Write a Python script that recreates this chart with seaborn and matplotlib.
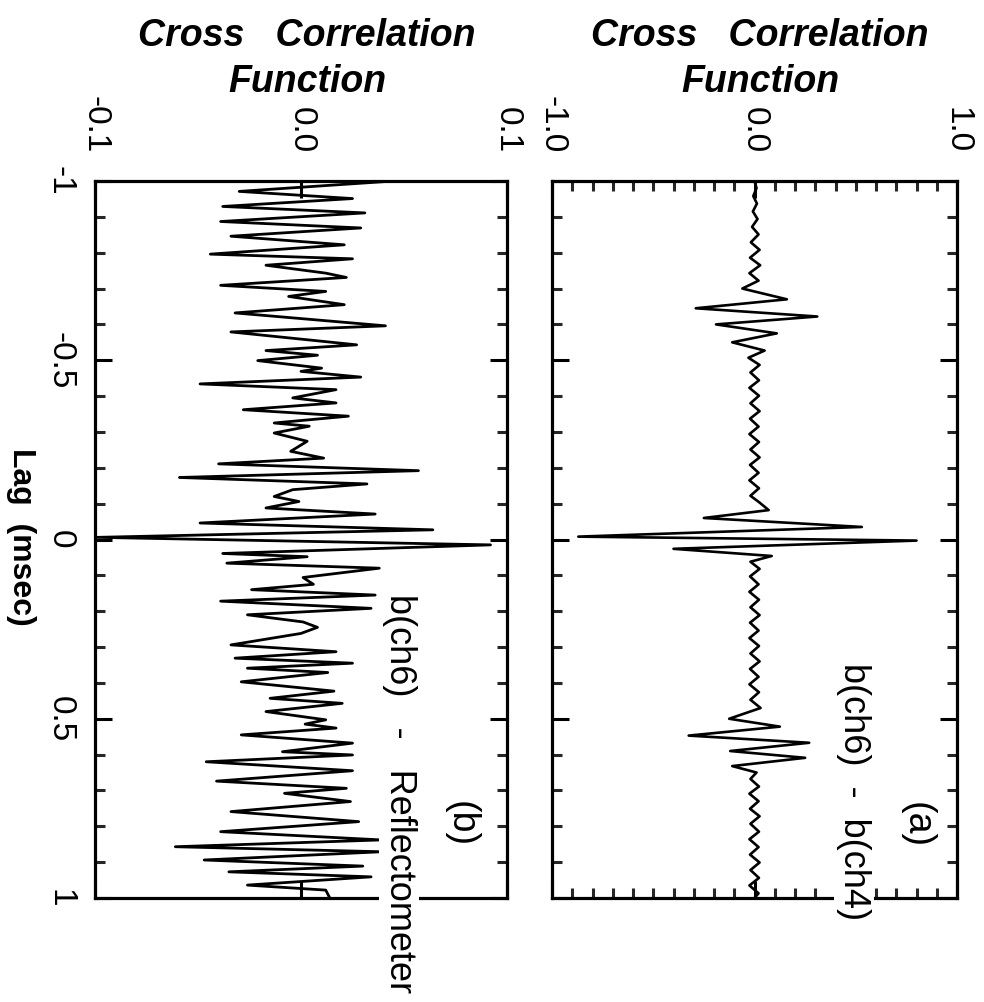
import matplotlib
matplotlib.use("Agg")
import matplotlib.pyplot as plt
import seaborn as sns
import pandas as pd
from matplotlib.ticker import FixedLocator

# ---------------- data ----------------
# panel (a): b(ch6) - b(ch4)
lag_a = [-1.000, -0.980, -0.958, -0.937, -0.915, -0.894, -0.872, -0.851, -0.829, -0.808,
         -0.786, -0.765, -0.743, -0.722,
         -0.700, -0.670, -0.645, -0.622, -0.600, -0.575, -0.550, -0.527, -0.507,
         -0.487, -0.466, -0.444, -0.423, -0.401, -0.380, -0.358, -0.337, -0.315, -0.294,
         -0.272, -0.251, -0.229, -0.208, -0.186, -0.165, -0.143, -0.122, -0.103,
         -0.082, -0.060, -0.035, -0.008, 0.003, 0.026, 0.046, 0.062,
         0.082, 0.103, 0.125, 0.146, 0.168, 0.189, 0.211, 0.232, 0.254, 0.275, 0.297,
         0.318, 0.340, 0.361, 0.383, 0.404, 0.426, 0.447, 0.470,
         0.500, 0.522, 0.547, 0.567, 0.590, 0.609, 0.632, 0.650,
         0.668, 0.689, 0.709, 0.730, 0.751, 0.772, 0.793, 0.815, 0.836, 0.858, 0.879,
         0.901, 0.922, 0.944, 0.965, 0.987, 1.000]
ccf_a = [0.000, 0.010, -0.006, 0.012, -0.008, 0.015, -0.012, 0.020, -0.018, 0.025,
         -0.022, 0.028, -0.025, 0.020,
         -0.060, 0.160, -0.290, 0.310, -0.190, 0.110, -0.110, 0.050, -0.030,
         0.025, -0.020, 0.022, -0.025, 0.022, -0.020, 0.025, -0.022, 0.020, -0.025,
         0.022, -0.020, 0.025, -0.022, 0.020, -0.025, 0.022, -0.020, 0.025,
         0.070, -0.250, 0.530, -0.870, 0.800, -0.400, 0.085, -0.020,
         0.025, -0.022, 0.020, -0.025, 0.022, -0.020, 0.025, -0.022, 0.020, -0.025, 0.022,
         -0.020, 0.025, -0.022, 0.020, -0.025, 0.022, -0.020, 0.030,
         -0.125, 0.125, -0.325, 0.270, -0.120, 0.250, -0.110, 0.010,
         -0.020, 0.022, -0.025, 0.020, -0.022, 0.025, -0.020, 0.022, -0.025, 0.020, -0.022,
         0.025, -0.020, 0.022, -0.025, 0.020, 0.000]

# panel (b): b(ch6) - Reflectometer
lag_b = [-1.000, -0.971, -0.951, -0.929, -0.911, -0.887, -0.869, -0.846, -0.822, -0.796,
         -0.783, -0.765, -0.743, -0.731, -0.709, -0.692, -0.678, -0.655, -0.632, -0.596,
         -0.579, -0.543, -0.527, -0.514, -0.499, -0.478, -0.469, -0.453, -0.434, -0.418,
         -0.395, -0.381, -0.362, -0.344, -0.325, -0.316, -0.297, -0.274, -0.246, -0.227,
         -0.211, -0.192, -0.173, -0.155, -0.139, -0.120, -0.106, -0.088, -0.071, -0.046,
         -0.027, -0.006, 0.015, 0.039, 0.048, 0.066, 0.080, 0.106, 0.125, 0.140,
         0.155, 0.172, 0.192, 0.210, 0.230, 0.245, 0.262, 0.294, 0.313, 0.331,
         0.345, 0.359, 0.371, 0.397, 0.423, 0.443, 0.457, 0.480, 0.503, 0.515,
         0.526, 0.545, 0.568, 0.592, 0.601, 0.620, 0.645, 0.674, 0.694, 0.708,
         0.731, 0.759, 0.787, 0.815, 0.838, 0.857, 0.871, 0.894, 0.911, 0.927,
         0.941, 0.964, 0.978, 1.000]
ccf_b = [0.045, -0.030, 0.025, -0.038, 0.031, -0.039, 0.029, -0.034, 0.021, -0.044,
         0.025, -0.017, 0.012, 0.022, -0.039, 0.012, -0.006, 0.021, -0.032, 0.041,
         -0.034, 0.027, -0.017, 0.008, -0.021, 0.010, 0.000, 0.029, -0.049, 0.017,
         -0.004, 0.017, -0.028, 0.023, -0.013, 0.004, -0.013, 0.003, -0.005, 0.011,
         -0.040, 0.057, -0.059, 0.032, -0.004, -0.013, -0.001, -0.017, 0.036, -0.049,
         0.064, -0.099, 0.092, -0.038, 0.003, -0.036, 0.038, 0.001, 0.006, -0.024,
         0.036, -0.039, 0.034, -0.026, 0.001, 0.008, 0.000, -0.034, 0.017, -0.032,
         0.025, -0.026, 0.013, -0.029, 0.016, -0.015, 0.020, -0.017, 0.012, 0.002,
         0.017, -0.029, 0.025, -0.009, 0.025, -0.046, 0.025, -0.041, 0.022, -0.008,
         0.024, -0.034, 0.028, -0.039, 0.039, -0.061, 0.039, -0.047, 0.030, -0.035,
         0.034, -0.026, 0.012, 0.014]

lag_ticks = [-1, -0.5, 0, 0.5, 1]
lag_tick_labels = ["-1", "-0.5", "0", "0.5", "1"]
a_ticks = [-1.0, 0.0, 1.0]
a_tick_labels = ["-1.0", "0.0", "1.0"]
b_ticks = [-0.1, 0.0, 0.1]
b_tick_labels = ["-0.1", "0.0", "0.1"]

# ---------------- figure ----------------
sns.set_theme(style="white")
plt.rcParams["font.family"] = ["Liberation Sans", "DejaVu Sans"]

W, H = 984, 1002
fig = plt.figure(figsize=(W / 100, H / 100), dpi=100)


def fx(px):
    return px / W


def fy(py):
    return 1 - py / H


def box(x0, x1, y0, y1):
    return [fx(x0), fy(y1), (x1 - x0) / W, (y1 - y0) / H]


ax_b = fig.add_axes(box(95, 507, 181, 898))
ax_a = fig.add_axes(box(552, 957, 181, 898))

df_a = pd.DataFrame({"lag": lag_a, "ccf": ccf_a})
df_b = pd.DataFrame({"lag": lag_b, "ccf": ccf_b})

sns.lineplot(data=df_b, x="ccf", y="lag", orient="y", sort=False, estimator=None,
             color="black", lw=2.0, ax=ax_b)
sns.lineplot(data=df_a, x="ccf", y="lag", orient="y", sort=False, estimator=None,
             color="black", lw=1.9, ax=ax_a)

tick_font = dict(family="Liberation Sans", size=24)

for ax, xlim, xt, xtl in [(ax_b, (-0.1, 0.1), b_ticks, b_tick_labels),
                          (ax_a, (-1.0, 1.0), a_ticks, a_tick_labels)]:
    ax.set_xlim(*xlim)
    ax.set_ylim(1, -1)
    ax.set_xlabel("")
    ax.set_ylabel("")
    for s in ax.spines.values():
        s.set_linewidth(2.3)
        s.set_color("black")
    ax.set_xticks(xt)
    ax.set_xticklabels(xtl, rotation=-90, fontdict=tick_font)
    ax.xaxis.set_ticks_position("both")
    ax.tick_params(axis="x", which="major", top=True, bottom=True, labeltop=True,
                   labelbottom=False, direction="in", length=12, width=2.2,
                   pad=20, colors="black")
    ax.set_yticks(lag_ticks)
    ax.yaxis.set_minor_locator(FixedLocator([v / 10 for v in range(-10, 11)]))
    ax.tick_params(axis="y", which="major", left=True, right=True, direction="in",
                   length=12, width=2.2, pad=14, colors="black")
    ax.tick_params(axis="y", which="minor", left=True, right=True, direction="in",
                   length=7, width=2.2)

ax_b.set_yticklabels(lag_tick_labels, rotation=-90, fontdict=tick_font, va="center")
ax_a.tick_params(axis="y", labelleft=False)
ax_a.xaxis.set_minor_locator(FixedLocator([v / 10 for v in range(-10, 11)]))
ax_a.tick_params(axis="x", which="minor", top=True, bottom=True, direction="in",
                 length=7, width=2.2)

# titles (original y-axis label)
title_kw = dict(family="Liberation Sans", weight="bold", style="italic", size=27,
                ha="center", va="baseline", color="black")
for cx in (307, 760):
    fig.text(fx(cx), fy(46), "Cross   Correlation", **title_kw)
    fig.text(fx(cx), fy(92), "Function", **title_kw)

# x-axis (lag) label
fig.text(fx(21), fy(537), "Lag  (msec)", rotation=-90, ha="center", va="center",
         family="Liberation Sans", weight="bold", size=23, color="black")

# panel annotations
white_box = dict(facecolor="white", edgecolor="none", pad=1.5)
fig.text(fx(399), fy(993), "b(ch6)   -   Reflectometer", rotation=-90, ha="center",
         va="bottom", size=26, color="black", bbox=white_box, zorder=5)
fig.text(fx(461), fy(824), "(b)", rotation=-90, ha="center", va="center", size=27,
         color="black")
fig.text(fx(854), fy(920), "b(ch6)  -  b(ch4)", rotation=-90, ha="center",
         va="bottom", size=26, color="black", bbox=white_box, zorder=5)
fig.text(fx(917), fy(825), "(a)", rotation=-90, ha="center", va="center", size=27,
         color="black")

fig.savefig("out.png", dpi=100, facecolor="white")
